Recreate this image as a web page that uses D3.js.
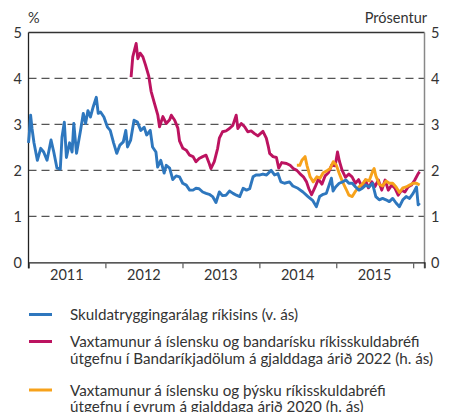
<!DOCTYPE html>
<html>
<head>
<meta charset="utf-8">
<script src="https://cdn.jsdelivr.net/npm/d3@7"></script>
<style>
  body { margin: 0; background: #fff; }
  svg { display: block; font-family: Lato, "Noto Sans", sans-serif; }
  .lbl { font-size: 14.5px; fill: #333; }
  .leg { font-size: 15.2px; fill: #333; }
</style>
</head>
<body>
<div id="chart"></div>
<script>
const yearLabels = ['2011', '2012', '2013', '2014', '2015'];
const yTicks = [0, 1, 2, 3, 4, 5];

const blueDates = ['2011-01-01','2011-01-04','2011-01-11','2011-01-18','2011-01-27','2011-02-12','2011-02-28','2011-03-14','2011-03-30','2011-04-18','2011-05-01','2011-05-16','2011-06-01','2011-06-09','2011-06-20','2011-06-30','2011-07-15','2011-07-27','2011-08-04','2011-08-17','2011-09-05','2011-09-18','2011-09-29','2011-10-10','2011-10-22','2011-11-04','2011-11-19','2011-11-28','2011-12-09','2011-12-25','2012-01-11','2012-01-24','2012-02-09','2012-02-24','2012-03-10','2012-03-26','2012-04-07','2012-04-15','2012-04-30','2012-05-16','2012-06-01','2012-06-17','2012-07-03','2012-07-15','2012-08-01','2012-08-12','2012-08-28','2012-09-05','2012-09-20','2012-10-06','2012-10-16','2012-11-01','2012-11-16','2012-12-02','2012-12-18','2013-01-02','2013-01-19','2013-02-04','2013-02-20','2013-03-06','2013-03-21','2013-04-07','2013-04-23','2013-05-08','2013-05-24','2013-06-09','2013-06-25','2013-07-10','2013-07-27','2013-08-12','2013-08-29','2013-09-14','2013-09-30','2013-10-16','2013-11-01','2013-11-16','2013-12-02','2013-12-16','2014-01-04','2014-01-18','2014-02-04','2014-02-26','2014-03-14','2014-03-30','2014-04-13','2014-04-30','2014-05-24','2014-06-09','2014-07-03','2014-07-27','2014-08-20','2014-09-12','2014-09-29','2014-10-14','2014-10-31','2014-11-15','2014-12-09','2014-12-17','2014-12-29','2015-01-15','2015-02-01','2015-02-16','2015-03-02','2015-03-18','2015-04-03','2015-04-19','2015-05-05','2015-05-21','2015-06-06','2015-06-22','2015-07-08','2015-07-24','2015-08-09','2015-08-25','2015-09-10','2015-09-26','2015-10-12','2015-10-28','2015-11-13','2015-11-29','2015-12-15','2016-01-01','2016-01-17','2016-01-25','2016-02-01'];
const blueValues = [2.6,2.75,3.2,2.9,2.6,2.22,2.48,2.4,2.22,2.66,2.4,2.05,2.03,2.72,3.05,2.28,2.6,2.4,3.02,2.37,2.87,3.24,3.02,3.3,3.16,3.38,3.59,3.24,3.27,3.16,2.94,2.87,2.6,2.37,2.55,2.62,2.87,2.51,2.66,3.09,3.05,2.87,2.94,2.77,2.87,2.51,2.4,2.07,2.22,1.94,2.11,2.05,1.8,1.88,1.86,1.72,1.68,1.57,1.57,1.61,1.6,1.53,1.5,1.48,1.43,1.3,1.53,1.45,1.46,1.55,1.5,1.46,1.43,1.61,1.57,1.6,1.86,1.9,1.9,1.92,1.9,2.0,1.9,1.93,1.75,1.72,1.75,1.66,1.61,1.53,1.43,1.34,1.21,1.43,1.48,1.5,1.83,1.55,1.64,1.72,1.75,1.79,1.72,1.72,1.64,1.57,1.61,1.68,1.64,1.72,1.43,1.36,1.39,1.36,1.32,1.39,1.29,1.21,1.36,1.43,1.39,1.5,1.64,1.25,1.29];

const usDates = ['2012-05-02','2012-05-10','2012-05-26','2012-06-03','2012-06-14','2012-06-27','2012-07-09','2012-07-25','2012-08-05','2012-08-21','2012-09-06','2012-09-14','2012-09-30','2012-10-16','2012-11-01','2012-11-09','2012-11-25','2012-12-10','2012-12-18','2013-01-03','2013-01-19','2013-02-04','2013-02-20','2013-03-06','2013-03-21','2013-04-07','2013-04-23','2013-05-08','2013-05-16','2013-06-01','2013-06-17','2013-06-25','2013-07-10','2013-07-27','2013-08-12','2013-08-28','2013-09-13','2013-09-21','2013-10-07','2013-10-23','2013-11-07','2013-11-23','2013-12-09','2013-12-25','2014-01-18','2014-02-03','2014-02-13','2014-02-19','2014-03-07','2014-03-23','2014-04-03','2014-04-17','2014-05-10','2014-05-27','2014-06-11','2014-06-28','2014-07-12','2014-07-29','2014-08-13','2014-08-24','2014-09-06','2014-09-23','2014-10-08','2014-10-25','2014-11-09','2014-11-25','2014-12-11','2014-12-27','2015-01-07','2015-01-16','2015-01-29','2015-02-14','2015-03-02','2015-03-17','2015-04-02','2015-04-17','2015-05-03','2015-05-19','2015-06-03','2015-06-19','2015-07-04','2015-07-20','2015-08-05','2015-08-21','2015-09-05','2015-09-21','2015-10-07','2015-10-22','2015-11-07','2015-11-23','2015-12-08','2015-12-24','2016-01-09','2016-01-25','2016-02-01'];
const usValues = [4.03,4.47,4.76,4.43,4.55,4.47,4.3,4.05,3.72,3.46,3.2,2.95,3.17,3.02,3.1,3.2,3.09,2.92,2.64,2.48,2.44,2.33,2.3,2.19,2.26,2.3,2.33,2.15,2.04,2.19,2.48,2.7,2.84,2.86,2.91,2.98,3.2,2.91,3.02,2.95,2.84,2.86,2.8,2.75,2.85,2.7,2.51,2.37,2.3,2.28,2.05,2.17,2.15,2.11,2.04,2.0,1.93,1.86,1.75,1.6,1.47,1.64,1.81,1.7,1.88,1.95,2.12,2.1,2.4,2.2,2.0,1.85,1.92,1.86,1.72,1.8,1.64,1.79,1.62,1.75,1.65,1.79,1.57,1.79,1.57,1.68,1.61,1.46,1.57,1.53,1.64,1.68,1.79,1.93,1.97];

const deDates = ['2014-06-28','2014-07-12','2014-07-22','2014-08-06','2014-08-15','2014-08-30','2014-09-14','2014-10-01','2014-10-16','2014-10-31','2014-11-17','2014-12-03','2014-12-18','2015-01-01','2015-01-14','2015-01-31','2015-02-16','2015-03-02','2015-03-18','2015-04-03','2015-04-19','2015-05-05','2015-05-21','2015-06-06','2015-06-22','2015-06-30','2015-07-08','2015-07-24','2015-08-09','2015-08-25','2015-09-10','2015-09-26','2015-10-12','2015-10-28','2015-11-13','2015-11-29','2015-12-15','2016-01-01','2016-01-17','2016-02-01'];
const deValues = [2.11,2.11,2.22,2.3,2.11,1.86,1.75,1.86,1.83,1.95,1.99,2.04,2.19,2.12,1.95,1.75,1.6,1.46,1.43,1.55,1.64,1.7,1.8,1.77,1.97,2.04,1.88,1.7,1.66,1.77,1.72,1.72,1.64,1.52,1.62,1.64,1.68,1.72,1.72,1.68];

const legendLines = [
  ['Skuldatryggingarálag ríkisins (v. ás)'],
  ['Vaxtamunur á íslensku og bandarísku ríkisskuldabréfi', 'útgefnu í Bandaríkjadölum á gjalddaga árið 2022 (h. ás)'],
  ['Vaxtamunur á íslensku og þýsku ríkisskuldabréfi', 'útgefnu í evrum á gjalddaga árið 2020 (h. ás)'],
];
const colors = ['#2e77be', '#bc1360', '#f7a21b'];

const W = 454, H = 412;
const parse = d3.timeParse('%Y-%m-%d');
const svg = d3.select('#chart').append('svg').attr('width', W).attr('height', H);

const x = d3.scaleTime().domain([parse('2011-01-01'), parse('2016-02-24')]).range([28.5, 424.5]);
const y = d3.scaleLinear().domain([0, 5]).range([262.3, 32.5]);

// dashed grid
svg.append('g').selectAll('line').data([1, 2, 3, 4]).enter().append('line')
  .attr('x1', x.range()[0]).attr('x2', x.range()[1])
  .attr('y1', d => y(d)).attr('y2', d => y(d))
  .attr('stroke', '#555').attr('stroke-width', 1.2).attr('stroke-dasharray', '8,5');

// frame
svg.append('line').attr('x1', x.range()[0]).attr('x2', x.range()[1]).attr('y1', y(5)).attr('y2', y(5))
  .attr('stroke', '#333').attr('stroke-width', 1.3);
svg.append('line').attr('x1', x.range()[1]).attr('x2', x.range()[1]).attr('y1', y(5)).attr('y2', y(0) + 6)
  .attr('stroke', '#888').attr('stroke-width', 1.5);

const xAxis = svg.append('g').attr('transform', `translate(0,${y(0)})`)
  .call(d3.axisBottom(x).ticks(d3.timeYear.every(1)).tickSize(6).tickFormat(''));
xAxis.select('.domain').attr('stroke', '#222').attr('stroke-width', 1.3);
xAxis.selectAll('.tick line').attr('stroke', '#666').attr('stroke-width', 1.3);

svg.append('line').attr('x1', x.range()[0]).attr('x2', x.range()[0]).attr('y1', y(5)).attr('y2', y(0) + 6)
  .attr('stroke', '#222').attr('stroke-width', 1.3);

svg.append('g').selectAll('text').data(yearLabels).enter().append('text')
  .attr('class', 'lbl').attr('text-anchor', 'middle')
  .attr('x', d => x(parse(`${d}-07-02`))).attr('y', 280).text(d => d);

svg.append('g').selectAll('text').data(yTicks).enter().append('text')
  .attr('class', 'lbl').attr('text-anchor', 'end')
  .attr('x', 22).attr('y', d => y(d) + 5.5).text(d => d);
svg.append('g').selectAll('text').data(yTicks).enter().append('text')
  .attr('class', 'lbl').attr('text-anchor', 'start')
  .attr('x', 431).attr('y', d => y(d) + 5.5).text(d => d);

svg.append('text').attr('class', 'lbl').attr('x', 28).attr('y', 23).text('%');
svg.append('text').attr('class', 'lbl').attr('text-anchor', 'end').attr('x', 427).attr('y', 23).text('Prósentur');

const line = d3.line().x(d => x(d[0])).y(d => y(d[1]));
const series = [
  [blueDates, blueValues, colors[0]],
  [usDates, usValues, colors[1]],
  [deDates, deValues, colors[2]],
];
[1, 2, 0].forEach(i => {
  const [dates, vals, c] = series[i];
  svg.append('path').datum(dates.map((d, j) => [parse(d), vals[j]]))
    .attr('d', line).attr('fill', 'none').attr('stroke', c)
    .attr('stroke-width', 2.9).attr('stroke-linejoin', 'round');
});

// legend
const legY = [320, 347, 395.5];
legendLines.forEach((lines, i) => {
  svg.append('line').attr('x1', 29).attr('x2', 52).attr('y1', legY[i] - 5.5).attr('y2', legY[i] - 5.5)
    .attr('stroke', colors[i]).attr('stroke-width', 3);
  lines.forEach((t, k) => {
    svg.append('text').attr('class', 'leg').attr('x', 70).attr('y', legY[i] + k * 16.5).text(t);
  });
});
</script>
</body>
</html>
